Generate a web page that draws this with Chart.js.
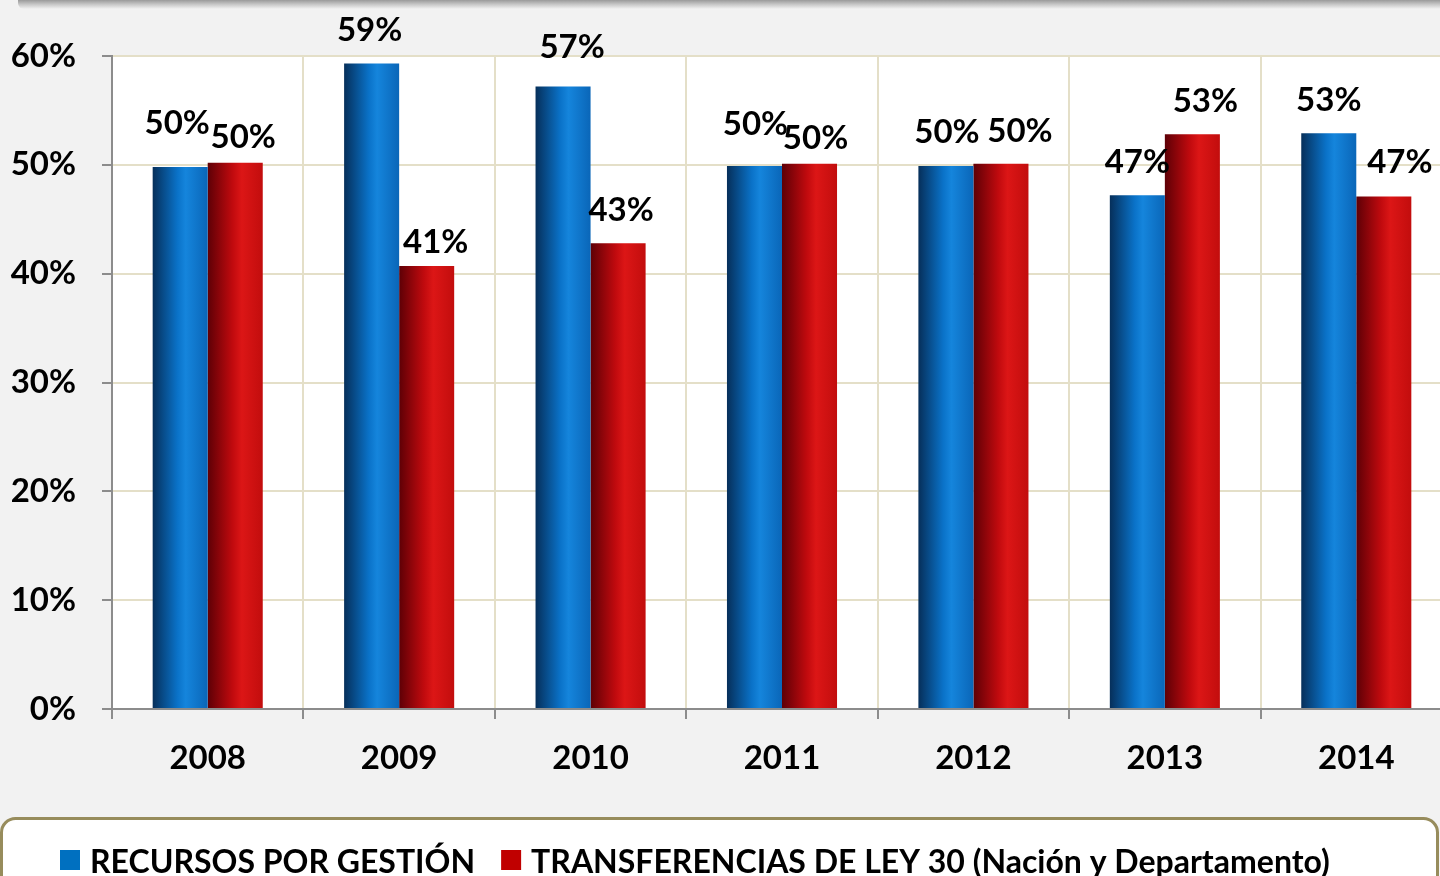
<!DOCTYPE html>
<html>
<head>
<meta charset="utf-8">
<script src="https://cdn.jsdelivr.net/npm/chart.js@4.4.1/dist/chart.umd.min.js"></script>
<style>
  html, body { margin: 0; padding: 0; background: #f2f2f2; overflow: hidden; width: 1440px; height: 876px; }
  #wrap { position: absolute; left: 0; top: 0; }
  #topEdge { position: absolute; left: 18px; top: 0; width: 1422px; height: 9px;
    background: linear-gradient(#9a9a9a, #c4c4c4 45%, #f2f2f2); border-radius: 0 0 0 6px; }
</style>
</head>
<body>
<div id="wrap"><canvas id="myChart" width="1452" height="876"></canvas></div>
<div id="topEdge"></div>
<script>
// Data
const years = ["2008", "2009", "2010", "2011", "2012", "2013", "2014"];
const recursos = [49.8, 59.3, 57.2, 49.9, 49.9, 47.2, 52.9];
const transferencias = [50.2, 40.7, 42.8, 50.1, 50.1, 52.8, 47.1];
const seriesNames = ["RECURSOS POR GESTIÓN", "TRANSFERENCIAS DE LEY 30 (Nación y Departamento)"];

// label nudges (px): horizontal shift and lift of baseline above the bar top
const labelDx = [[-3, -2, 9, 1, 1, 0, 0], [8, 9, 3, 6, 19, 13, 16]];
const labelLift = [[33, 23, 28, 31, 23, 22, 22], [15, 13, 22, 15, 22, 22, 23]];

const FONT = "Lato";
const CAT_PCT = 0.575;
const legendColors = ["#0070c0", "#c00000"];
const blueStops = [[0, "#062f5a"], [0.45, "#0a72c8"], [0.6, "#1585dc"], [1, "#0a66b8"]];
const redStops = [[0, "#5e0006"], [0.45, "#c00a0e"], [0.62, "#dc1616"], [1, "#c20d0d"]];

// horizontal gradient for each bar, worked out from the x scale
const barFill = (stops) => (ctx) => {
  const chart = ctx.chart;
  const xs = chart.scales.x;
  if (!xs || ctx.type !== "data") return stops[2][1];
  const catW = xs.width / years.length;
  const barW = (catW * CAT_PCT) / 2;
  const left = xs.getPixelForValue(ctx.dataIndex) - barW + ctx.datasetIndex * barW;
  if (!Number.isFinite(left) || !Number.isFinite(barW) || barW <= 0) return stops[2][1];
  const g = chart.ctx.createLinearGradient(left, 0, left + barW, 0);
  stops.forEach(([o, c]) => g.addColorStop(o, c));
  return g;
};

// white plot area and the legend panel
const backdrop = {
  id: "backdrop",
  beforeDraw(chart) {
    const { ctx, chartArea: a } = chart;
    ctx.save();
    ctx.fillStyle = "#ffffff";
    ctx.fillRect(a.left, a.top, a.right - a.left, a.bottom - a.top);

    ctx.beginPath();
    ctx.roundRect(1.5, 818.5, 1436, 120, 14);
    ctx.fillStyle = "#ffffff";
    ctx.fill();
    ctx.lineWidth = 3;
    ctx.strokeStyle = "#978c5c";
    ctx.stroke();

    ctx.font = `bold 32px ${FONT}`;
    ctx.textBaseline = "alphabetic";
    let x = 60;
    seriesNames.forEach((name, i) => {
      ctx.fillStyle = legendColors[i];
      ctx.fillRect(x, 850, 20, 20);
      ctx.fillStyle = "#000";
      ctx.fillText(name, x + 30, 873);
      x += 30 + ctx.measureText(name).width + 26;
    });
    ctx.restore();
  },
};

// percentage labels above bars
const valueLabels = {
  id: "valueLabels",
  afterDatasetsDraw(chart) {
    const { ctx } = chart;
    ctx.save();
    ctx.font = `bold 33px ${FONT}`;
    ctx.fillStyle = "#000";
    ctx.textAlign = "center";
    ctx.textBaseline = "alphabetic";
    chart.data.datasets.forEach((ds, d) => {
      chart.getDatasetMeta(d).data.forEach((bar, i) => {
        ctx.fillText(Math.round(ds.data[i]) + "%", bar.x + labelDx[d][i], bar.y - labelLift[d][i]);
      });
    });
    ctx.restore();
  },
};

const ctx = document.getElementById("myChart");
const chart = new Chart(ctx, {
  type: "bar",
  data: {
    labels: years,
    datasets: [
      { label: seriesNames[0], data: recursos, backgroundColor: barFill(blueStops) },
      { label: seriesNames[1], data: transferencias, backgroundColor: barFill(redStops) },
    ],
  },
  options: {
    responsive: false,
    animation: false,
    devicePixelRatio: 1,
    categoryPercentage: CAT_PCT,
    barPercentage: 1,
    layout: { padding: { top: 56, right: 0, left: 0, bottom: 0 } },
    plugins: { legend: { display: false }, tooltip: { enabled: false } },
    scales: {
      x: {
        afterFit: (s) => { s.height = 167; },
        grid: { color: "#e4dfc8", lineWidth: 2, tickColor: "#8c8c8c", tickLength: 10 },
        border: { color: "#8c8c8c", width: 2 },
        ticks: { color: "#000", padding: 20, font: { family: FONT, weight: "bold", size: 33 } },
      },
      y: {
        min: 0,
        max: 60,
        afterFit: (s) => { s.width = 112; },
        grid: { color: "#e4dfc8", lineWidth: 2, tickColor: "#8c8c8c", tickLength: 10 },
        border: { color: "#8c8c8c", width: 2 },
        ticks: {
          stepSize: 10,
          color: "#000",
          padding: 26,
          font: { family: FONT, weight: "bold", size: 33 },
          callback: (v) => v + "%",
        },
      },
    },
  },
  plugins: [backdrop, valueLabels],
});
// redraw once the scales exist so every bar gets its gradient
chart.update();
</script>
</body>
</html>
